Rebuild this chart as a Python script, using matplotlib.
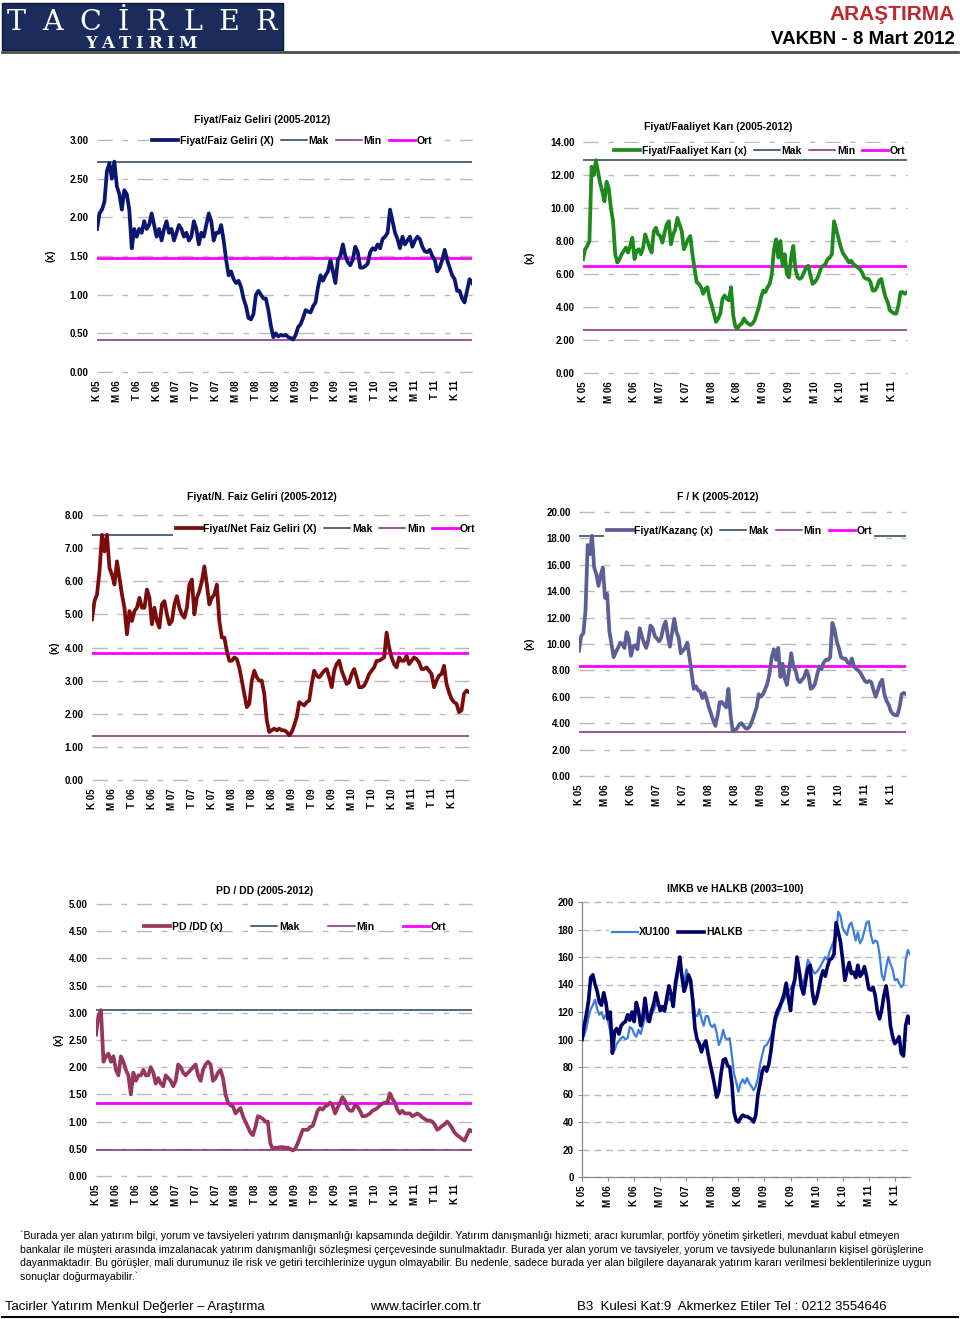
import matplotlib
matplotlib.use("Agg")
import matplotlib.pyplot as plt
from matplotlib.patches import Rectangle
from matplotlib.lines import Line2D
from matplotlib.ticker import FormatStrFormatter
import numpy as np

plt.rcParams['font.family'] = ['Liberation Sans', 'DejaVu Sans']
plt.rcParams['font.weight'] = 'bold'
plt.rcParams['lines.scale_dashes'] = False

SANS = ['Liberation Sans', 'DejaVu Sans']
SERIF = ['DejaVu Serif', 'Liberation Serif']

# x axis labels (every 4 months on the left charts, every 6 on the right)
left_labels = ['K 05', 'M 06', 'T 06', 'K 06', 'M 07', 'T 07', 'K 07', 'M 08', 'T 08', 'K 08',
               'M 09', 'T 09', 'K 09', 'M 10', 'T 10', 'K 10', 'M 11', 'T 11', 'K 11']
right_labels = ['K 05', 'M 06', 'K 06', 'M 07', 'K 07', 'M 08', 'K 08', 'M 09', 'K 09',
                'M 10', 'K 10', 'M 11', 'K 11']

# half-monthly readings, Nov 2005 - Mar 2012 (8 values = 4 months per row)
faiz = [1.85, 2.05, 2.1, 2.2, 2.6, 2.7, 2.5, 2.72,
        2.4, 2.3, 2.1, 2.35, 2.3, 2.1, 1.6, 1.85,
        1.75, 1.85, 1.8, 1.95, 1.85, 1.9, 2.05, 1.9,
        1.75, 1.85, 1.7, 1.85, 1.95, 1.8, 1.85, 1.7,
        1.8, 1.9, 1.85, 1.75, 1.8, 1.7, 1.75, 1.95,
        1.85, 1.65, 1.8, 1.75, 1.9, 2.05, 1.95, 1.7,
        1.8, 1.8, 1.9, 1.7, 1.45, 1.25, 1.3, 1.2,
        1.15, 1.18, 1.1, 0.95, 0.85, 0.7, 0.68, 0.75,
        1.0, 1.05, 1.0, 0.95, 0.95, 0.8, 0.6, 0.45,
        0.5, 0.46, 0.48, 0.47, 0.48, 0.45, 0.44, 0.42,
        0.48, 0.58, 0.62, 0.7, 0.8, 0.78, 0.77, 0.85,
        0.9, 1.1, 1.25, 1.18, 1.25, 1.3, 1.45, 1.3,
        1.15, 1.45, 1.5, 1.65, 1.5, 1.42, 1.38, 1.45,
        1.62, 1.55, 1.35, 1.35, 1.37, 1.4, 1.55, 1.6,
        1.58, 1.65, 1.6, 1.72, 1.75, 1.8, 2.1, 1.95,
        1.8, 1.72, 1.6, 1.75, 1.65, 1.7, 1.75, 1.62,
        1.7, 1.75, 1.72, 1.62, 1.56, 1.55, 1.58, 1.5,
        1.45, 1.3, 1.35, 1.45, 1.58, 1.45, 1.35, 1.25,
        1.2, 1.05, 1.05, 0.95, 0.9, 1.05, 1.2, 1.15]
faiz_stats = [2.72, 0.42, 1.47]   # Mak, Min, Ort

faaliyet = [6.9, 7.5, 7.7, 8.0, 12.5, 12.0, 12.9, 12.2,
            11.5, 11.0, 10.4, 11.6, 11.2, 10.0, 9.2, 7.2,
            6.7, 6.9, 7.2, 7.4, 7.6, 7.3, 7.7, 8.2,
            6.9, 7.4, 7.5, 7.2, 7.6, 8.4, 8.0, 7.6,
            7.3, 8.6, 8.8, 8.4, 8.3, 7.9, 8.5, 9.0,
            9.2, 7.8, 8.4, 8.7, 9.4, 9.0, 8.6, 7.5,
            7.8, 8.1, 8.3, 7.2, 6.3, 5.5, 5.4, 5.2,
            4.8, 5.1, 5.2, 4.5, 4.1, 3.6, 3.1, 3.3,
            3.6, 4.5, 4.7, 4.5, 4.4, 5.2, 3.5, 2.8,
            2.7, 2.9, 3.0, 3.3, 3.1, 3.0, 2.9, 3.0,
            3.2, 3.6, 4.0, 4.6, 5.0, 4.9, 5.2, 5.4,
            6.0, 7.5, 8.1, 7.0, 8.0, 6.5, 7.2, 6.0,
            5.8, 7.0, 7.7, 6.3, 5.8, 5.7, 5.8, 6.1,
            6.4, 6.5, 5.9, 5.4, 5.5, 5.7, 6.0, 6.4,
            6.5, 6.6, 6.9, 7.0, 7.2, 9.2, 8.7, 8.2,
            7.7, 7.3, 7.1, 6.9, 6.7, 6.8, 6.6, 6.5,
            6.4, 6.3, 6.1, 5.8, 5.7, 5.7, 5.5, 5.0,
            5.0, 5.2, 5.6, 5.7, 5.1, 4.6, 4.3, 3.8,
            3.7, 3.6, 3.6, 4.1, 4.9, 4.9, 4.8, 4.9]
faaliyet_stats = [12.9, 2.6, 6.5]

net_faiz = [4.85, 5.4, 5.6, 6.3, 7.4, 6.9, 7.4, 6.4,
            6.2, 5.9, 6.6, 6.1, 5.6, 5.2, 4.4, 5.1,
            4.8, 5.1, 5.2, 5.5, 5.2, 5.2, 5.75, 5.5,
            4.7, 5.2, 4.8, 4.6, 5.3, 5.4, 5.0, 4.7,
            4.8, 5.3, 5.55, 5.2, 5.0, 4.9, 5.2, 5.9,
            6.05, 5.0, 5.5, 5.7, 6.0, 6.45, 5.9, 5.3,
            5.5, 5.6, 5.9, 4.8, 4.3, 4.3, 3.9, 3.6,
            3.6, 3.7, 3.65, 3.4, 3.0, 2.6, 2.2, 2.3,
            3.0, 3.3, 3.1, 3.0, 3.0, 2.6, 1.8, 1.45,
            1.5, 1.55, 1.5, 1.55, 1.5, 1.5, 1.45, 1.35,
            1.45, 1.65, 1.9, 2.35, 2.3, 2.25, 2.35, 2.4,
            2.9, 3.3, 3.15, 3.1, 3.2, 3.3, 3.35, 3.1,
            2.8, 3.3, 3.5, 3.6, 3.3, 3.1, 2.9, 2.95,
            3.2, 3.35, 3.1, 2.8, 2.8, 2.85, 3.0, 3.2,
            3.3, 3.4, 3.6, 3.6, 3.65, 3.7, 4.45, 4.0,
            3.7, 3.5, 3.4, 3.7, 3.6, 3.6, 3.75, 3.5,
            3.6, 3.7, 3.65, 3.55, 3.35, 3.35, 3.4, 3.3,
            3.2, 2.8, 3.0, 3.15, 3.2, 3.45, 2.9, 2.65,
            2.45, 2.35, 2.3, 2.05, 2.1, 2.6, 2.7, 2.65]
net_faiz_stats = [7.4, 1.33, 3.83]

fk = [9.5, 10.6, 10.8, 12.5, 17.5, 16.8, 18.2, 15.8,
      15.3, 14.4, 15.2, 15.8, 13.5, 13.8, 11.0, 10.0,
      9.0, 9.4, 9.7, 10.1, 10.0, 9.7, 10.9, 10.4,
      9.1, 9.8, 9.9, 9.6, 11.2, 10.6, 10.1, 9.7,
      10.3, 11.4, 11.2, 10.6, 10.4, 10.2, 10.5, 11.3,
      11.7, 10.6, 9.8, 10.9, 11.9, 10.9, 10.5, 9.3,
      9.5, 9.7, 10.1, 9.0, 7.8, 6.6, 6.8, 6.5,
      6.4, 5.9, 6.3, 5.8, 5.2, 4.7, 4.2, 3.8,
      4.6, 5.6, 5.6, 5.4, 5.2, 6.6, 4.6, 3.4,
      3.5, 3.6, 3.9, 4.0, 3.8, 3.6, 3.6, 3.8,
      4.2, 4.7, 5.2, 6.2, 6.0, 6.2, 6.6, 7.0,
      7.8, 9.0, 9.6, 8.8, 9.7, 7.5, 8.5, 7.4,
      6.9, 8.0, 9.3, 8.3, 8.0, 7.3, 7.1, 7.3,
      7.5, 8.0, 7.6, 6.6, 6.7, 7.0, 7.7, 8.3,
      8.1, 8.6, 8.8, 8.8, 9.0, 11.6, 11.1, 10.2,
      9.7, 9.0, 8.9, 8.9, 8.6, 8.5, 8.9, 8.3,
      8.1, 8.0, 7.8, 7.5, 7.2, 7.1, 7.2, 7.1,
      6.5, 6.0, 6.5, 7.0, 7.3, 6.2, 5.7, 5.4,
      4.9, 4.7, 4.6, 4.6, 5.2, 6.2, 6.3, 6.2]
fk_stats = [18.2, 3.3, 8.3]

pddd = [2.6, 2.95, 3.05, 2.1, 2.2, 2.25, 2.1, 2.2,
        1.95, 1.85, 2.2, 2.1, 1.95, 1.85, 1.5, 1.9,
        1.75, 1.85, 1.85, 1.95, 1.85, 1.85, 2.0, 1.9,
        1.7, 1.8, 1.7, 1.65, 1.85, 1.8, 1.75, 1.65,
        1.75, 2.05, 2.0, 1.9, 1.85, 1.9, 1.95, 2.0,
        2.05, 1.85, 1.75, 1.95, 2.05, 2.1, 2.05, 1.75,
        1.8, 1.9, 1.95, 1.8, 1.5, 1.35, 1.3, 1.28,
        1.15, 1.2, 1.25, 1.1, 1.0, 0.9, 0.8, 0.75,
        0.9, 1.1, 1.08, 1.05, 1.0, 1.0, 0.6, 0.5,
        0.52, 0.52, 0.53, 0.53, 0.52, 0.52, 0.5, 0.47,
        0.5, 0.6, 0.72, 0.85, 0.85, 0.85, 0.9, 0.92,
        1.05, 1.2, 1.25, 1.22, 1.28, 1.3, 1.35, 1.3,
        1.15, 1.25, 1.35, 1.45, 1.38, 1.25, 1.2, 1.2,
        1.3, 1.28, 1.2, 1.1, 1.1, 1.12, 1.15, 1.2,
        1.22, 1.25, 1.3, 1.33, 1.35, 1.35, 1.52, 1.42,
        1.35, 1.22, 1.15, 1.2, 1.15, 1.15, 1.15, 1.1,
        1.12, 1.15, 1.12, 1.08, 1.05, 1.02, 1.02, 1.0,
        0.95, 0.85, 0.88, 0.92, 0.95, 1.0, 0.95, 0.88,
        0.8, 0.75, 0.72, 0.68, 0.65, 0.75, 0.85, 0.82]
pddd_stats = [3.05, 0.47, 1.35]

halkb = [100, 110, 118, 128, 145, 147, 140, 135,
         127, 125, 134, 127, 115, 120, 90, 106,
         108, 104, 110, 112, 113, 118, 114, 120,
         113, 127, 121, 110, 116, 130, 118, 113,
         121, 126, 134, 127, 121, 124, 121, 130,
         139, 133, 124, 141, 150, 160, 146, 135,
         140, 147, 143, 128, 108, 100, 97, 91,
         96, 99, 90, 82, 75, 67, 58, 62,
         75, 85, 86, 81, 80, 68, 47, 41,
         40, 43, 45, 44, 44, 43, 42, 40,
         45, 60, 68, 77, 80, 77, 82, 92,
         105, 116, 121, 124, 128, 133, 141, 130,
         121, 137, 144, 160, 150, 138, 133, 143,
         152, 154, 135, 126, 130, 137, 145, 150,
         146, 153, 158, 159, 162, 185, 178, 171,
         158, 143, 150, 156, 148, 149, 145, 154,
         146, 148, 153, 146, 137, 136, 138, 132,
         120, 115, 122, 132, 139, 128, 110, 102,
         97, 99, 102, 90, 88, 110, 117, 112]

xu100 = [100, 103, 108, 116, 122, 125, 129, 122,
         118, 120, 115, 118, 113, 106, 97, 92,
         97, 99, 101, 102, 100, 101, 109, 108,
         104, 102, 107, 104, 110, 117, 113, 114,
         118, 121, 125, 127, 123, 121, 120, 127,
         130, 128, 131, 136, 145, 155, 146, 141,
         151, 146, 141, 131, 118, 117, 122, 115,
         110, 117, 117, 111, 109, 111, 105, 96,
         100, 107, 101, 100, 101, 88, 75, 69,
         62, 68, 71, 68, 72, 68, 66, 63,
         66, 72, 82, 89, 95, 96, 99, 102,
         108, 113, 117, 121, 126, 129, 132, 135,
         137, 140, 145, 155, 150, 143, 141, 149,
         158, 155, 151, 148, 149, 151, 154, 157,
         160, 158, 164, 168, 172, 178, 193, 190,
         181, 178, 176, 183, 185, 179, 172, 178,
         170, 173, 179, 185, 186, 176, 170, 172,
         171, 162, 147, 143, 152, 160, 155, 151,
         143, 144, 141, 138, 140, 158, 165, 162]

W, H = 960, 1319
fig = plt.figure(figsize=(W / 100, H / 100), dpi=100)


def fx(x):
    return x / W


def fy(y):
    return 1 - y / H


def make_axes(l, t, r, b):
    return fig.add_axes([fx(l), fy(b), fx(r) - fx(l), fy(t) - fy(b)])


GRID = '#bababa'


def ratio_chart(box, vals, stats, name, color, ymax, step, labels, every,
                title, tpos, leg_pos, ylab_x, colspace=0.7, frame=True):
    ax = make_axes(*box)
    x = np.arange(len(vals))
    line, = ax.plot(x, vals, color=color, lw=2.7, zorder=3, solid_joinstyle='round')
    hm = ax.axhline(stats[0], color='#1f3d5c', lw=1.1, zorder=2)
    hn = ax.axhline(stats[1], color='#7a2a7a', lw=1.1, zorder=2)
    ho = ax.axhline(stats[2], color='#ff00ff', lw=2.0, zorder=2)
    ax.set_xlim(0, len(vals) - 1)
    ax.set_ylim(0, ymax)
    ax.set_yticks(np.arange(0, ymax + step / 2, step))
    ax.yaxis.set_major_formatter(FormatStrFormatter('%.2f'))
    ax.set_xticks(np.arange(len(labels)) * every)
    ax.set_xticklabels(labels, rotation=90)
    ax.grid(axis='y', color=GRID, lw=1.0, ls=(0, (11, 7, 4, 7)))
    ax.set_axisbelow(True)
    for gl in ax.get_ygridlines():
        gl.set_clip_on(False)
    for s in ax.spines.values():
        s.set_visible(False)
    ax.tick_params(length=0, labelsize=7, pad=6)
    leg = ax.legend([line, hm, hn, ho], [name, 'Mak', 'Min', 'Ort'], loc='center',
                    bbox_to_anchor=leg_pos, ncol=4, frameon=frame, facecolor='white',
                    edgecolor='none', framealpha=1, fancybox=False, fontsize=7.5,
                    handlelength=2.5, handletextpad=0.15, columnspacing=colspace,
                    borderpad=0.25, borderaxespad=0)
    leg.set_zorder(5)
    ax.text(ylab_x, 0.5, '(x)', transform=ax.transAxes, rotation=90,
            ha='center', va='center', fontsize=7.5)
    fig.text(fx(tpos[0]), fy(tpos[1]), title, ha='center', va='center', fontsize=7.5)
    return ax


ratio_chart((97, 140, 472, 372), faiz, faiz_stats, 'Fiyat/Faiz Geliri (X)', '#0a1670',
            3.0, 0.5, left_labels, 8, 'Fiyat/Faiz Geliri (2005-2012)', (262, 120),
            (0.52, 0.996), -0.125)
ratio_chart((583, 142, 907, 373), faaliyet, faaliyet_stats, 'Fiyat/Faaliyet Karı (x)', '#1e8a1e',
            14.0, 2.0, right_labels, 12, 'Fiyat/Faaliyet Karı (2005-2012)', (718, 127),
            (0.546, 0.961), -0.164)
ratio_chart((92, 515, 469, 780), net_faiz, net_faiz_stats, 'Fiyat/Net Faiz Geliri (X)', '#7a0c0c',
            8.0, 1.0, left_labels, 8, 'Fiyat/N. Faiz Geliri (2005-2012)', (262, 497),
            (0.62, 0.947), -0.099)
ratio_chart((579, 512, 906, 776), fk, fk_stats, 'Fiyat/Kazanç (x)', '#5c5f96',
            20.0, 2.0, right_labels, 12, 'F / K (2005-2012)', (718, 497),
            (0.49, 0.928), -0.15)
ratio_chart((96, 904, 472, 1176), pddd, pddd_stats, 'PD /DD (x)', '#97365f',
            5.0, 0.5, left_labels, 8, 'PD / DD (2005-2012)', (265, 891),
            (0.53, 0.915), -0.101, colspace=2.8, frame=False)

# IMKB vs HALKB
ax6 = make_axes(582, 902, 910, 1177)
x6 = np.arange(len(halkb))
l_xu, = ax6.plot(x6, xu100, color='#3c7ddc', lw=1.6, zorder=3)
l_hk, = ax6.plot(x6, halkb, color='#000066', lw=2.6, zorder=4)
ax6.set_xlim(0, len(halkb) - 1)
ax6.set_ylim(0, 200)
ax6.set_yticks(np.arange(0, 201, 20))
ax6.set_xticks(np.arange(len(right_labels)) * 12)
ax6.set_xticklabels(right_labels, rotation=90)
ax6.grid(axis='y', color=GRID, lw=1.0, ls=(0, (5, 3.5)))
ax6.set_axisbelow(True)
for gl in ax6.get_ygridlines():
    gl.set_clip_on(False)
ax6.spines['top'].set_visible(False)
ax6.spines['right'].set_visible(False)
for s in ('left', 'bottom'):
    ax6.spines[s].set_color('#8c8c8c')
    ax6.spines[s].set_linewidth(0.9)
ax6.tick_params(length=3, color='#8c8c8c', labelsize=7, pad=3)
leg6 = ax6.legend([l_xu, l_hk], ['XU100', 'HALKB'], loc='center', bbox_to_anchor=(0.29, 0.89),
                  ncol=2, frameon=True, facecolor='white', edgecolor='none', framealpha=1,
                  fancybox=False, fontsize=7.5, handlelength=2.5, handletextpad=0.15,
                  columnspacing=0.7, borderpad=0.25, borderaxespad=0)
leg6.set_zorder(5)
fig.text(fx(735), fy(889), 'IMKB ve HALKB (2003=100)', ha='center', va='center', fontsize=7.5)

# header
fig.add_artist(Rectangle((fx(2), fy(50)), fx(283) - fx(2), fy(3) - fy(50),
                         transform=fig.transFigure, facecolor='#1b2b5c',
                         edgecolor='#0c1636', lw=1))


def spaced(text, x0, x1, ybase, **kw):
    r = fig.canvas.get_renderer()
    ts = [fig.text(0, 0, ch, **kw) for ch in text]
    ws = [t.get_window_extent(r).width for t in ts]
    gap = (x1 - x0 - sum(ws)) / (len(text) - 1)
    x = x0
    for t, w in zip(ts, ws):
        t.set_position((fx(x), fy(ybase)))
        t.set_va('baseline')
        x += w + gap


spaced('TACİRLER', 7, 277, 30, family=SERIF, fontsize=20.5, fontweight='normal', color='white')
spaced('YATIRIM', 85, 197, 48, family=SERIF, fontsize=12, fontweight='bold', color='white')

fig.text(fx(955), fy(15), 'ARAŞTIRMA', ha='right', va='center', family=SANS,
         fontsize=15, fontweight='bold', color='#c0272d')
fig.text(fx(955), fy(40), 'VAKBN - 8 Mart 2012', ha='right', va='center', family=SANS,
         fontsize=13.5, fontweight='bold', color='black')
fig.add_artist(Line2D([fx(2), fx(958)], [fy(52), fy(52)], color='#4d4d4d', lw=2))

# footer
disclaimer = [
    "`Burada yer alan yatırım bilgi, yorum ve tavsiyeleri yatırım danışmanlığı kapsamında değildir. "
    "Yatırım danışmanlığı hizmeti; aracı kurumlar, portföy yönetim şirketleri, mevduat kabul etmeyen",
    "bankalar ile müşteri arasında imzalanacak yatırım danışmanlığı sözleşmesi çerçevesinde sunulmaktadır. "
    "Burada yer alan yorum ve tavsiyeler, yorum ve tavsiyede bulunanların kişisel görüşlerine",
    "dayanmaktadır. Bu görüşler, mali durumunuz ile risk ve getiri tercihlerinize uygun olmayabilir. "
    "Bu nedenle, sadece burada yer alan bilgilere dayanarak yatırım kararı verilmesi beklentilerinize uygun",
    "sonuçlar doğurmayabilir.`",
]
for i, line in enumerate(disclaimer):
    fig.text(fx(20), fy(1236 + i * 13.7), line, ha='left', va='center', family=SANS,
             fontsize=7.6, fontweight='normal', color='black')

fig.text(fx(5), fy(1307), 'Tacirler Yatırım Menkul Değerler – Araştırma', ha='left', va='center',
         family=SANS, fontsize=9.5, fontweight='normal')
fig.text(fx(370), fy(1307), 'www.tacirler.com.tr', ha='left', va='center',
         family=SANS, fontsize=9.5, fontweight='normal')
fig.text(fx(577), fy(1307), 'B3  Kulesi Kat:9  Akmerkez Etiler Tel : 0212 3554646', ha='left',
         va='center', family=SANS, fontsize=9.5, fontweight='normal')
fig.add_artist(Line2D([fx(2), fx(958)], [fy(1317), fy(1317)], color='black', lw=1.5))

fig.savefig('out.png', dpi=100)
